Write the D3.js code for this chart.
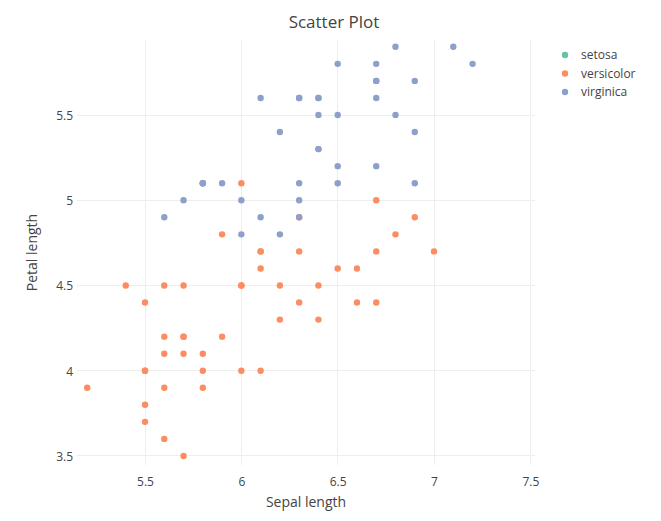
<!DOCTYPE html>
<html>
<head>
<meta charset="utf-8">
<script src="https://cdn.jsdelivr.net/npm/d3@7"></script>
<style>
  html, body { margin: 0; padding: 0; background: #fff; }
  svg text { font-family: "Open Sans", "Noto Sans", sans-serif; fill: #444; }
</style>
</head>
<body>
<svg id="chart" width="661" height="521"></svg>
<script>
// ---- data (sepal length, petal length) ----
const species = ["setosa", "versicolor", "virginica"];
const colors = ["#66c2a5", "#fc8d62", "#8da0cb"];
const setosaX = [];
const setosaY = [];
const versicolorX = [7.0,6.4,6.9,5.5,6.5,5.7,6.3,6.6,5.2,5.9,6.0,6.1,5.6,6.7,5.6,5.8,6.2,5.6,5.9,6.1,6.3,6.1,6.4,6.6,6.8,6.7,6.0,5.7,5.5,5.5,5.8,6.0,5.4,6.0,6.7,6.3,5.6,5.5,5.5,6.1,5.8,5.6,5.7,5.7,6.2,5.7];
const versicolorY = [4.7,4.5,4.9,4.0,4.6,4.5,4.7,4.6,3.9,4.2,4.0,4.7,3.6,4.4,4.5,4.1,4.5,3.9,4.8,4.0,4.9,4.7,4.3,4.4,4.8,5.0,4.5,3.5,3.8,3.7,3.9,5.1,4.5,4.5,4.7,4.4,4.1,4.0,4.4,4.6,4.0,4.2,4.2,4.2,4.3,4.1];
const virginicaX = [5.8,7.1,6.3,6.5,6.7,6.5,6.4,6.8,5.7,5.8,6.4,6.5,6.0,6.9,5.6,6.3,6.7,6.2,6.1,6.4,7.2,6.4,6.3,6.1,6.3,6.4,6.0,6.9,6.7,6.9,5.8,6.8,6.7,6.7,6.3,6.5,6.2,5.9];
const virginicaY = [5.1,5.9,5.6,5.8,5.8,5.1,5.3,5.5,5.0,5.1,5.3,5.5,5.0,5.7,4.9,4.9,5.7,4.8,4.9,5.6,5.8,5.6,5.1,5.6,5.6,5.5,4.8,5.4,5.6,5.1,5.1,5.9,5.7,5.2,5.0,5.2,5.4,5.1];
const xTicks = [5.5, 6, 6.5, 7, 7.5];
const yTicks = [3.5, 4, 4.5, 5, 5.5];
const xDomain = [5.147, 7.524];
const yDomain = [3.447, 5.94];

const seriesX = [setosaX, versicolorX, virginicaX];
const seriesY = [setosaY, versicolorY, virginicaY];

// ---- layout ----
const svg = d3.select("#chart");
const plot = { left: 77, right: 535, top: 40, bottom: 465 };

const x = d3.scaleLinear().domain(xDomain).range([plot.left, plot.right]);
const y = d3.scaleLinear().domain(yDomain).range([plot.bottom, plot.top]);

// gridlines
const grid = svg.append("g");
grid.selectAll("line.vx").data(xTicks).join("line")
  .attr("x1", d => x(d)).attr("x2", d => x(d))
  .attr("y1", plot.top).attr("y2", plot.bottom)
  .attr("stroke", "#eee").attr("stroke-width", 1).attr("shape-rendering", "crispEdges");
grid.selectAll("line.hy").data(yTicks).join("line")
  .attr("y1", d => y(d)).attr("y2", d => y(d))
  .attr("x1", plot.left).attr("x2", plot.right)
  .attr("stroke", "#eee").attr("stroke-width", 1).attr("shape-rendering", "crispEdges");

// axes (labels only, plotly style)
const xAxis = d3.axisBottom(x).tickValues(xTicks).tickSize(0).tickPadding(0).tickFormat(d3.format("~g"));
const gx = svg.append("g").attr("transform", `translate(0,${plot.bottom})`).call(xAxis);
gx.select(".domain").remove();
gx.selectAll("text").attr("dy", null).attr("y", 21).style("font-size", "12px").attr("fill", "#444")
  .style("font-family", '"Open Sans", sans-serif');

const yAxis = d3.axisLeft(y).tickValues(yTicks).tickSize(0).tickPadding(0).tickFormat(d3.format("~g"));
const gy = svg.append("g").attr("transform", `translate(${plot.left - 4},0)`).call(yAxis);
gy.select(".domain").remove();
gy.selectAll("text").attr("x", 0).attr("dy", "0.36em").style("font-size", "12px").attr("fill", "#444")
  .style("font-family", '"Open Sans", sans-serif');

// points
const clip = svg.append("clipPath").attr("id", "clip").append("rect")
  .attr("x", plot.left).attr("y", plot.top)
  .attr("width", plot.right - plot.left).attr("height", plot.bottom - plot.top);
const pts = svg.append("g").attr("clip-path", "url(#clip)");
species.forEach((s, i) => {
  const data = seriesX[i].map((v, j) => [v, seriesY[i][j]]);
  pts.append("g").selectAll("circle").data(data).join("circle")
    .attr("cx", d => x(d[0])).attr("cy", d => y(d[1]))
    .attr("r", 3.2).attr("fill", colors[i]);
});

// title
svg.append("text").attr("x", 334).attr("y", 28).attr("text-anchor", "middle")
  .style("font-size", "17px").text("Scatter Plot");

// axis titles
svg.append("text").attr("x", (plot.left + plot.right) / 2).attr("y", 507).attr("text-anchor", "middle")
  .style("font-size", "14px").text("Sepal length");
svg.append("text").attr("transform", `translate(37,${(plot.top + plot.bottom) / 2}) rotate(-90)`)
  .attr("text-anchor", "middle").style("font-size", "14px").text("Petal length");

// legend
const legend = svg.append("g");
species.forEach((s, i) => {
  const ly = 55 + i * 18.5;
  legend.append("circle").attr("cx", 565).attr("cy", ly).attr("r", 3.2).attr("fill", colors[i]);
  legend.append("text").attr("x", 581).attr("y", ly).attr("dy", "0.36em")
    .style("font-size", "12px").text(s);
});
</script>
</body>
</html>
